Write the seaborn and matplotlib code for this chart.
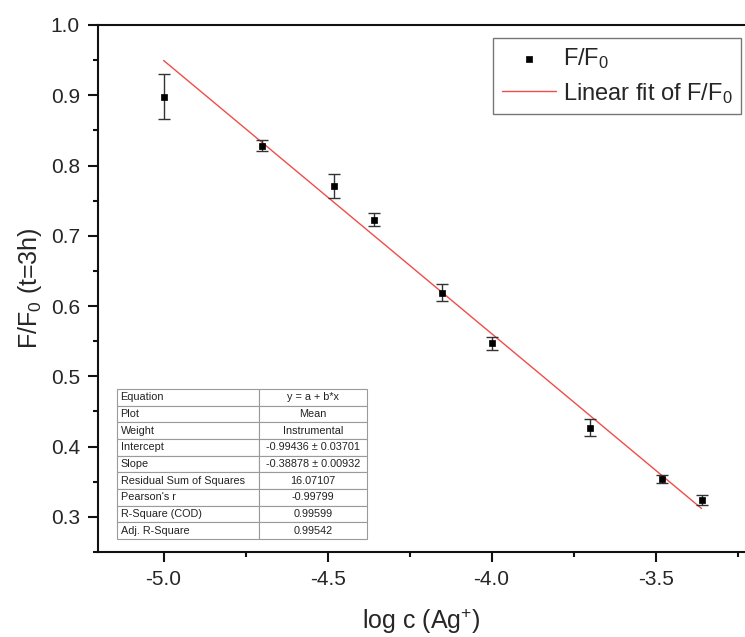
import matplotlib
matplotlib.use("Agg")
import matplotlib.pyplot as plt
from matplotlib.ticker import MultipleLocator, FormatStrFormatter
import numpy as np
import pandas as pd
import seaborn as sns

# Measured quenching ratio vs. silver-ion concentration
log_c = [-5.00, -4.70, -4.48, -4.36, -4.15, -4.00, -3.70, -3.48, -3.36]
ratio = [0.898, 0.828, 0.771, 0.723, 0.619, 0.547, 0.427, 0.354, 0.324]
ratio_err = [0.032, 0.008, 0.017, 0.009, 0.012, 0.009, 0.012, 0.006, 0.007]

# Linear fit parameters (y = a + b*x)
intercept = -0.99436
slope = -0.38878

table_labels = ["Equation", "Plot", "Weight", "Intercept", "Slope",
                "Residual Sum of Squares", "Pearson's r", "R-Square (COD)",
                "Adj. R-Square"]
table_values = ["y = a + b*x", "Mean", "Instrumental",
                "-0.99436 \u00b1 0.03701", "-0.38878 \u00b1 0.00932",
                "16.07107", "-0.99799", "0.99599", "0.99542"]

sns.set_style("ticks")
plt.rcParams["font.family"] = ["Liberation Sans", "DejaVu Sans"]
plt.rcParams["mathtext.fontset"] = "custom"
plt.rcParams["mathtext.rm"] = "Liberation Sans"
plt.rcParams["mathtext.it"] = "Liberation Sans:italic"

fig = plt.figure(figsize=(7.45, 6.37), dpi=100)
ax = fig.add_axes([98 / 745, 1 - 552 / 637, 1 - 98 / 745, (552 - 25) / 637])

df = pd.DataFrame({"log_c": log_c, "ratio": ratio, "err": ratio_err})

# Error bars first, then square markers on top
ax.errorbar(df["log_c"], df["ratio"], yerr=df["err"], fmt="none",
            ecolor="#333333", elinewidth=1.0, capsize=4, capthick=1.0, zorder=3)
sns.scatterplot(data=df, x="log_c", y="ratio", marker="s", s=24,
                color="black", edgecolor="black", linewidth=0.5,
                ax=ax, zorder=4, label="F/F$_0$")

fit = pd.DataFrame({"x": [min(log_c), max(log_c)]})
fit["y"] = intercept + slope * fit["x"]
sns.lineplot(data=fit, x="x", y="y", color="#f04c4c", linewidth=1.0,
             ax=ax, zorder=2, label="Linear fit of F/F$_0$")

ax.set_xlim(-5.2, -5.2 + (745 - 98) / 328)
ax.set_ylim(0.25, 1.0)
ax.xaxis.set_major_locator(MultipleLocator(0.5))
ax.xaxis.set_minor_locator(MultipleLocator(0.25))
ax.yaxis.set_major_locator(MultipleLocator(0.1))
ax.yaxis.set_minor_locator(MultipleLocator(0.05))
ax.xaxis.set_major_formatter(FormatStrFormatter("%.1f"))
ax.yaxis.set_major_formatter(FormatStrFormatter("%.1f"))

for side in ["left", "bottom", "top"]:
    ax.spines[side].set_linewidth(1.5)
    ax.spines[side].set_color("#111111")
ax.spines["right"].set_visible(False)

ax.tick_params(axis="both", which="major", direction="out", length=7,
               width=1.5, labelsize=15, pad=6, color="#111111")
ax.tick_params(axis="both", which="minor", direction="out", length=3.5,
               width=1.5, color="#111111")
ax.tick_params(top=False, right=False, which="both")

ax.set_xlabel("log c (Ag$^{+}$)", fontsize=18, labelpad=13)
ax.set_ylabel("F/F$_0$ (t=3h)", fontsize=18, labelpad=5)

leg = ax.legend(loc="upper right", fontsize=17, frameon=True, fancybox=False,
                edgecolor="#555555", handlelength=2.3, handletextpad=0.3,
                borderpad=0.35, borderaxespad=0, labelspacing=0.4,
                markerscale=1.0)
leg.set_bbox_to_anchor((1 - 4 / 647, 1 - 13 / 527), transform=ax.transAxes)
leg.get_frame().set_linewidth(1.0)

# Fit statistics table
tbl = ax.table(cellText=[[a, b] for a, b in zip(table_labels, table_values)],
               cellLoc="center", colWidths=[142, 108],
               bbox=[(117 - 98) / 647, (552 - 539) / 527,
                     (367 - 117) / 647, (539 - 389) / 527])
tbl.auto_set_font_size(False)
tbl.set_fontsize(7.8)
for (r, c), cell in tbl.get_celld().items():
    cell.set_edgecolor("#9a9a9a")
    cell.set_linewidth(0.8)
    cell.get_text().set_color("#222222")
    if c == 0:
        cell.get_text().set_ha("left")
        cell.PAD = 0.025
tbl.set_zorder(5)

fig.savefig("out.png", dpi=100)
